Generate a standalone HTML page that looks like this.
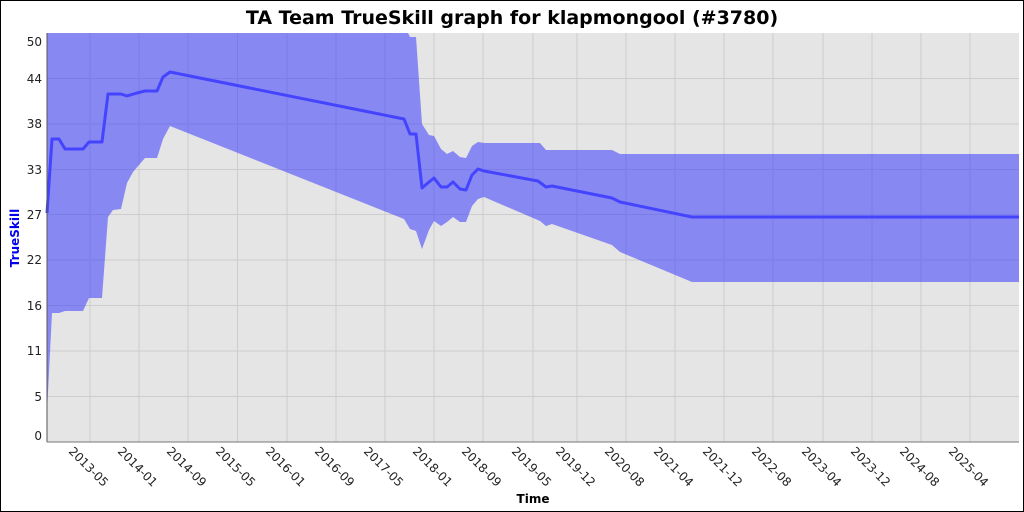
<!DOCTYPE html>
<html><head><meta charset="utf-8"><style>
html,body{margin:0;padding:0;background:#fff;}
svg{display:block;font-family:"DejaVu Sans","Liberation Sans",sans-serif;}
</style></head><body>
<svg width="1024" height="512" viewBox="0 0 1024 512">
<rect x="0.5" y="0.5" width="1023" height="511" fill="#fff" stroke="#000"/>
<text x="512" y="24" text-anchor="middle" font-size="19" font-weight="bold">TA Team TrueSkill graph for klapmongool (#3780)</text>
<rect x="47" y="33" width="972" height="409" fill="#e5e5e5"/>
<g stroke="#cdcdcd" stroke-width="1">
<line x1="47" x2="1019" y1="78.5" y2="78.5"/><line x1="47" x2="1019" y1="124" y2="124"/><line x1="47" x2="1019" y1="169.5" y2="169.5"/><line x1="47" x2="1019" y1="214.5" y2="214.5"/><line x1="47" x2="1019" y1="260" y2="260"/><line x1="47" x2="1019" y1="305.5" y2="305.5"/><line x1="47" x2="1019" y1="351" y2="351"/><line x1="47" x2="1019" y1="396.5" y2="396.5"/>
<line y1="33" y2="442" x1="90" x2="90"/><line y1="33" y2="442" x1="139" x2="139"/><line y1="33" y2="442" x1="188" x2="188"/><line y1="33" y2="442" x1="237.5" x2="237.5"/><line y1="33" y2="442" x1="287" x2="287"/><line y1="33" y2="442" x1="336" x2="336"/><line y1="33" y2="442" x1="385" x2="385"/><line y1="33" y2="442" x1="434" x2="434"/><line y1="33" y2="442" x1="483" x2="483"/><line y1="33" y2="442" x1="533" x2="533"/><line y1="33" y2="442" x1="577" x2="577"/><line y1="33" y2="442" x1="626" x2="626"/><line y1="33" y2="442" x1="675" x2="675"/><line y1="33" y2="442" x1="724" x2="724"/><line y1="33" y2="442" x1="773" x2="773"/><line y1="33" y2="442" x1="823" x2="823"/><line y1="33" y2="442" x1="872" x2="872"/><line y1="33" y2="442" x1="921" x2="921"/><line y1="33" y2="442" x1="970" x2="970"/>
</g>
<polygon fill="#3c3cff" fill-opacity="0.55" points="47,33 408,33 410,37 416,37 422,124 429,135 434,136 441,149 447,154 453,151 460,157 466,158 472,146 478,142 484,143 540,143 546,150 612,150 620,154 1019,154 1019,282 692,282 620,252 612,245 552,224 546,226 540,221 484,197 478,199 472,206 466,222 460,222 453,217 447,222 441,226 434,221 429,230 422,249 416,231 410,229 404,219 170,126 163,139 157,158 145,158 133,172 127,183 121,209 113,210 108,217 102,298 89,298 83,311 65,311 59,313 52,313 47,412"/>
<polyline fill="none" stroke="#4444ff" stroke-width="3" stroke-linejoin="round" points="47,213 52,139 59,139 65,149 83,149 89,142 102,142 108,94 121,94 127,96 137,93 145,91 157,91 163,77 170,72 404,119 410,134 416,134 422,188 429,182 434,178 441,187 447,187 453,182 460,189 466,190 472,175 478,169 484,171 538,181 546,187 552,186 612,198 620,202 692,217 1019,217"/>
<line x1="47" y1="33" x2="47" y2="442" stroke="#555"/>
<line x1="47" y1="442" x2="1019" y2="442" stroke="#777"/>
<g font-size="12" fill="#222" text-anchor="end">
<text x="42" y="46">50</text><text x="42" y="83">44</text><text x="42" y="128">38</text><text x="42" y="174">33</text><text x="42" y="219">27</text><text x="42" y="264">22</text><text x="42" y="310">16</text><text x="42" y="355">11</text><text x="42" y="401">5</text><text x="42" y="440">0</text>
</g>
<text transform="translate(19,238) rotate(-90)" text-anchor="middle" font-size="12" font-weight="bold" fill="#0000ee">TrueSkill</text>
<text x="533" y="503" text-anchor="middle" font-size="12" font-weight="bold">Time</text>
<g font-size="12" fill="#222">
<text transform="translate(68,452) rotate(45)">2013-05</text>
<text transform="translate(117,452) rotate(45)">2014-01</text>
<text transform="translate(166,452) rotate(45)">2014-09</text>
<text transform="translate(215,452) rotate(45)">2015-05</text>
<text transform="translate(265,452) rotate(45)">2016-01</text>
<text transform="translate(314,452) rotate(45)">2016-09</text>
<text transform="translate(363,452) rotate(45)">2017-05</text>
<text transform="translate(412,452) rotate(45)">2018-01</text>
<text transform="translate(461,452) rotate(45)">2018-09</text>
<text transform="translate(511,452) rotate(45)">2019-05</text>
<text transform="translate(555,452) rotate(45)">2019-12</text>
<text transform="translate(604,452) rotate(45)">2020-08</text>
<text transform="translate(653,452) rotate(45)">2021-04</text>
<text transform="translate(702,452) rotate(45)">2021-12</text>
<text transform="translate(751,452) rotate(45)">2022-08</text>
<text transform="translate(801,452) rotate(45)">2023-04</text>
<text transform="translate(850,452) rotate(45)">2023-12</text>
<text transform="translate(899,452) rotate(45)">2024-08</text>
<text transform="translate(948,452) rotate(45)">2025-04</text>
</g>
</svg>
</body></html>
